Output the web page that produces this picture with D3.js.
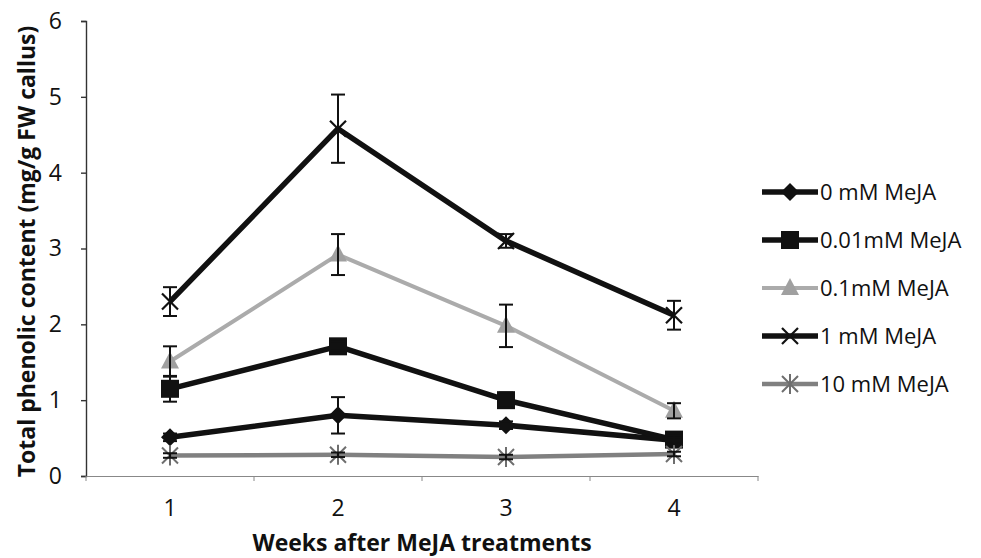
<!DOCTYPE html>
<html>
<head>
<meta charset="utf-8">
<script src="https://cdn.jsdelivr.net/npm/d3@7/dist/d3.min.js"></script>
<style>
  html, body { margin: 0; padding: 0; background: #fff; }
  svg text { font-family: "Open Sans", "Lato", sans-serif; fill: #111; }
</style>
</head>
<body>
<svg id="chart" width="981" height="558"></svg>
<script>
// Weeks after treatment
const weeks = ["1", "2", "3", "4"];
const yTicks = [0, 1, 2, 3, 4, 5, 6];

// Series names (MeJA concentration)
const seriesNames = ["0 mM MeJA", "0.01mM MeJA", "0.1mM MeJA", "1 mM MeJA", "10 mM MeJA"];

// Mean total phenolic content (mg/g FW callus)
const v0mM   = [0.51, 0.80, 0.67, 0.47];
const v001mM = [1.15, 1.71, 1.00, 0.48];
const v01mM  = [1.51, 2.92, 1.98, 0.86];
const v1mM   = [2.30, 4.58, 3.10, 2.12];
const v10mM  = [0.27, 0.28, 0.25, 0.29];

// Standard errors
const e0mM   = [0.05, 0.24, 0.05, 0.04];
const e001mM = [0.17, 0.06, 0.10, 0.06];
const e01mM  = [0.20, 0.27, 0.28, 0.10];
const e1mM   = [0.19, 0.45, 0.09, 0.19];
const e10mM  = [0.03, 0.03, 0.03, 0.03];

const values = [v0mM, v001mM, v01mM, v1mM, v10mM];
const errors = [e0mM, e001mM, e01mM, e1mM, e10mM];
const lineColors = ["#111", "#111", "#ababab", "#111", "#808080"];
const lineWidths = [5.5, 5.5, 4, 5.5, 4.5];
const markers = ["diamond", "square", "triangle", "x", "star"];
const markerFill = ["#111", "#111", "#a0a0a0", "none", "none"];
const markerStroke = ["#111", "#111", "#999", "#111", "#6e6e6e"];

const svg = d3.select("#chart");
const plot = { left: 86, right: 758, top: 21, bottom: 476 };

const x = d3.scaleBand().domain(weeks).range([plot.left, plot.right]).padding(0);
const y = d3.scaleLinear().domain([0, 6]).range([plot.bottom, plot.top]);
const cx = w => x(w) + x.bandwidth() / 2;

// y axis
const yAxis = svg.append("g")
  .attr("transform", `translate(${plot.left},0)`)
  .call(d3.axisLeft(y).tickValues(yTicks).tickSize(5).tickPadding(19).tickFormat(d3.format("d")));
yAxis.select(".domain").attr("stroke", "#333").attr("stroke-width", 1.4);
yAxis.selectAll(".tick line").attr("stroke", "#333").attr("stroke-width", 1.4);
yAxis.selectAll(".tick text").style("font-size", "23px").attr("fill", "#111");

// x axis with ticks between categories
const xAxis = svg.append("g")
  .attr("transform", `translate(0,${plot.bottom})`)
  .call(d3.axisBottom(x).tickSize(0).tickPadding(24));
xAxis.select(".domain").attr("stroke", "#888").attr("stroke-width", 1);
xAxis.selectAll(".tick text").style("font-size", "23px").attr("fill", "#111");
xAxis.selectAll(".band-tick")
  .data(weeks.concat(["end"]))
  .join("line")
  .attr("x1", (d, i) => i < weeks.length ? x(d) : plot.right)
  .attr("x2", (d, i) => i < weeks.length ? x(d) : plot.right)
  .attr("y1", 0).attr("y2", 5)
  .attr("stroke", "#888").attr("stroke-width", 1);

// axis titles
svg.append("text")
  .attr("transform", `translate(35,${(plot.top + plot.bottom) / 2 + 3}) rotate(-90)`)
  .attr("text-anchor", "middle")
  .style("font-size", "23px").style("font-weight", "bold")
  .text("Total phenolic content (mg/g FW callus)");

svg.append("text")
  .attr("x", (plot.left + plot.right) / 2)
  .attr("y", 551)
  .attr("text-anchor", "middle")
  .style("font-size", "23px").style("font-weight", "bold")
  .text("Weeks after MeJA treatments");

// marker drawing
function drawMarker(g, type, fill, stroke) {
  if (type === "diamond") {
    g.append("path").attr("d", "M0,-9L9,0L0,9L-9,0Z").attr("fill", fill);
  } else if (type === "square") {
    g.append("rect").attr("x", -9).attr("y", -9).attr("width", 18).attr("height", 18).attr("fill", fill);
  } else if (type === "triangle") {
    g.append("path").attr("d", "M0,-10L9,7L-9,7Z").attr("fill", fill);
  } else if (type === "x") {
    g.append("path").attr("d", "M-8,-8L8,8M8,-8L-8,8").attr("stroke", stroke).attr("stroke-width", 2.2);
  } else if (type === "star") {
    g.append("path").attr("d", "M-8,-8L8,8M8,-8L-8,8M0,-10L0,10").attr("stroke", stroke).attr("stroke-width", 2);
  }
}

const line = d3.line().x((d, i) => cx(weeks[i])).y(d => y(d));

values.forEach((vals, s) => {
  const g = svg.append("g");
  g.append("path")
    .attr("d", line(vals))
    .attr("fill", "none")
    .attr("stroke", lineColors[s])
    .attr("stroke-width", lineWidths[s])
    .attr("stroke-linejoin", "round");
  vals.forEach((v, i) => {
    const mg = g.append("g").attr("transform", `translate(${cx(weeks[i])},${y(v)})`);
    drawMarker(mg, markers[s], markerFill[s], markerStroke[s]);
  });
});

// error bars
values.forEach((vals, s) => {
  const g = svg.append("g").attr("stroke", "#111").attr("stroke-width", 2);
  vals.forEach((v, i) => {
    const e = errors[s][i];
    const px = cx(weeks[i]);
    const y1 = y(v + e), y2 = y(v - e);
    g.append("line").attr("x1", px).attr("x2", px).attr("y1", y1).attr("y2", y2);
    g.append("line").attr("x1", px - 7).attr("x2", px + 7).attr("y1", y1).attr("y2", y1);
    g.append("line").attr("x1", px - 7).attr("x2", px + 7).attr("y1", y2).attr("y2", y2);
  });
});

// legend
const legend = svg.append("g").attr("transform", "translate(762,192)");
seriesNames.forEach((name, s) => {
  const row = legend.append("g").attr("transform", `translate(0,${s * 48})`);
  row.append("line").attr("x1", 0).attr("x2", 56).attr("y1", 0).attr("y2", 0)
    .attr("stroke", lineColors[s]).attr("stroke-width", lineWidths[s]);
  const mg = row.append("g").attr("transform", "translate(28,0)");
  drawMarker(mg, markers[s], markerFill[s], markerStroke[s]);
  row.append("text").attr("x", 58).attr("y", 0).attr("dy", "0.36em")
    .style("font-size", "22px").text(name);
});
</script>
</body>
</html>
